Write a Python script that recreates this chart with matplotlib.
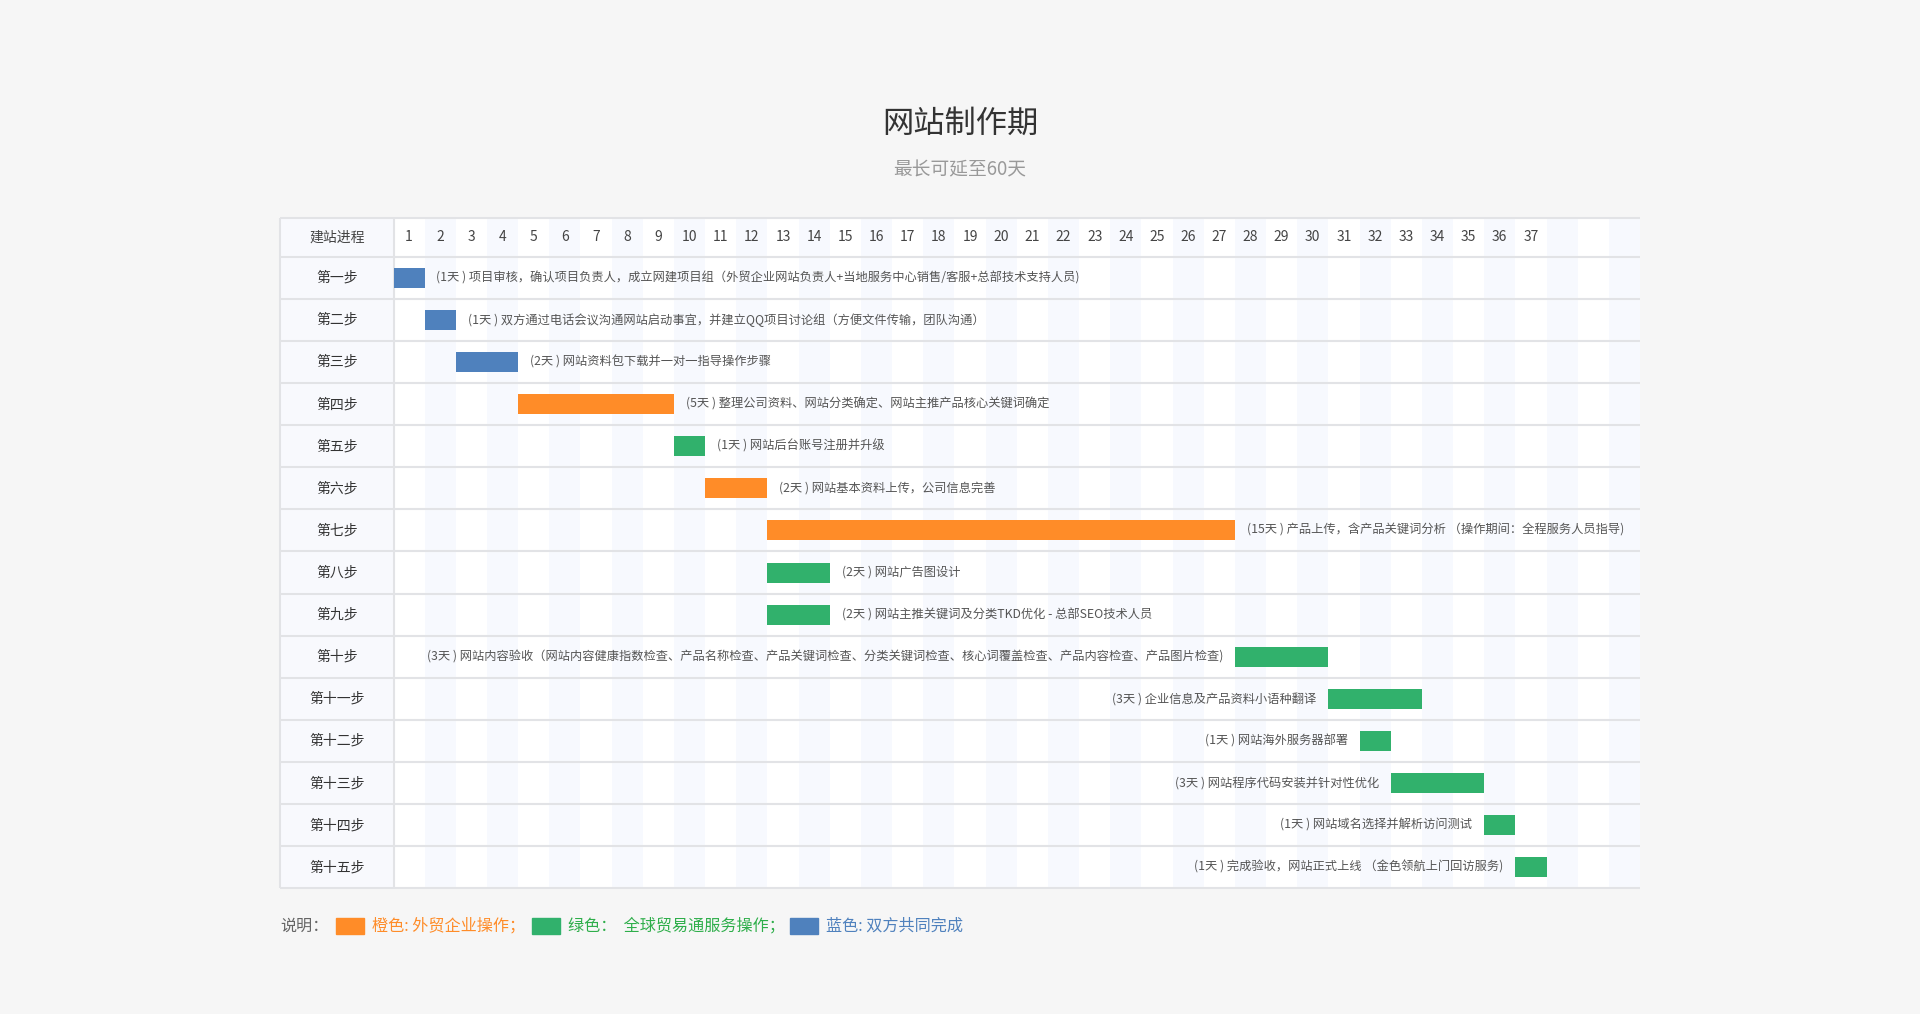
import matplotlib
matplotlib.use('Agg')
import matplotlib.pyplot as plt
from matplotlib.patches import Rectangle

plt.rcParams['font.family'] = ['Noto Sans CJK SC', 'DejaVu Sans']

# ---------------- data ----------------
title = '网站制作期'
subtitle = '最长可延至60天'
header_label = '建站进程'
steps = ['第一步', '第二步', '第三步', '第四步', '第五步', '第六步', '第七步', '第八步',
         '第九步', '第十步', '第十一步', '第十二步', '第十三步', '第十四步', '第十五步']
start_days = [1, 2, 3, 5, 10, 11, 13, 13, 13, 28, 31, 32, 33, 36, 37]
durations = [1, 1, 2, 5, 1, 2, 15, 2, 2, 3, 3, 1, 3, 1, 1]
owners = ['blue', 'blue', 'blue', 'orange', 'green', 'orange', 'orange', 'green',
          'green', 'green', 'green', 'green', 'green', 'green', 'green']
descriptions = [
    '(1天 ) 项目审核，确认项目负责人，成立网建项目组（外贸企业网站负责人+当地服务中心销售/客服+总部技术支持人员)',
    '(1天 ) 双方通过电话会议沟通网站启动事宜，并建立QQ项目讨论组（方便文件传输，团队沟通）',
    '(2天 ) 网站资料包下载并一对一指导操作步骤',
    '(5天 ) 整理公司资料、网站分类确定、网站主推产品核心关键词确定',
    '(1天 ) 网站后台账号注册并升级',
    '(2天 ) 网站基本资料上传，公司信息完善',
    '(15天 ) 产品上传，含产品关键词分析 （操作期间：全程服务人员指导)',
    '(2天 ) 网站广告图设计',
    '(2天 ) 网站主推关键词及分类TKD优化 - 总部SEO技术人员',
    '(3天 ) 网站内容验收（网站内容健康指数检查、产品名称检查、产品关键词检查、分类关键词检查、核心词覆盖检查、产品内容检查、产品图片检查)',
    '(3天 ) 企业信息及产品资料小语种翻译',
    '(1天 ) 网站海外服务器部署',
    '(3天 ) 网站程序代码安装并针对性优化',
    '(1天 ) 网站域名选择并解析访问测试',
    '(1天 ) 完成验收，网站正式上线 （金色领航上门回访服务)',
]
label_side = ['right'] * 9 + ['left'] * 6
day_labels = [str(d) for d in range(1, 38)]
n_columns = 40
legend_title = '说明：'
legend_keys = ['orange', 'green', 'blue']
legend_texts = ['橙色: 外贸企业操作；', '绿色：  全球贸易通服务操作；', '蓝色: 双方共同完成']

# ---------------- style ----------------
colors = {'blue': '#4f81bd', 'orange': '#ff8c28', 'green': '#31b16c'}
text_colors = {'blue': '#4f81bd', 'orange': '#ff8c28', 'green': '#2eae4a'}
BG = '#f6f6f6'
STRIPE = '#f7f9fe'
LABEL_BG = '#f8f9fd'
GRID = '#e2e3e6'

W, H = 1920, 1014
fig = plt.figure(figsize=(W / 100, H / 100), dpi=100, facecolor=BG)

# table geometry in pixels
tab_left, tab_right = 280.3, 1640.0
tab_top, tab_bottom = 217.7, 888.3
col0 = 393.5
header_px = 39.0
n_rows = len(steps)
row_px = (tab_bottom - tab_top - header_px) / n_rows
day_px = (tab_right - col0) / n_columns
label_w = (col0 - tab_left) / day_px
header_h = header_px / row_px

ax = fig.add_axes([tab_left / W, 1 - tab_bottom / H,
                   (tab_right - tab_left) / W, (tab_bottom - tab_top) / H])
ax.set_xlim(-label_w, n_columns)
ax.set_ylim(n_rows, -header_h)
ax.set_facecolor('white')
for s in ax.spines.values():
    s.set_visible(False)
ax.set_xticks([])
ax.set_yticks([])

# backgrounds
ax.axvspan(-label_w, 0, color=LABEL_BG, zorder=0, lw=0)
for k in range(2, n_columns + 1, 2):
    ax.axvspan(k - 1, k, color=STRIPE, zorder=0, lw=0)

# grid lines
ax.hlines(list(range(0, n_rows)), -label_w, n_columns, color=GRID, lw=1.5, zorder=1)
ax.hlines([-header_h, n_rows], -label_w, n_columns, color=GRID, lw=1.5, zorder=1,
          clip_on=False)
ax.vlines([-label_w, 0], -header_h, n_rows, color=GRID, lw=1.5, zorder=1, clip_on=False)

# header
ax.text(-label_w / 2, -header_h / 2, header_label, ha='center', va='center',
        fontsize=10, color='#444444')
for i, d in enumerate(day_labels):
    ax.text(i + 0.5, -header_h / 2, d, ha='center', va='center', fontsize=10,
            color='#444444')

# rows
ys = list(range(n_rows))
for i, name in enumerate(steps):
    ax.text(-label_w / 2, i + 0.5, name, ha='center', va='center', fontsize=10,
            color='#333333')

bar_h = 20.0 / row_px
lefts = [s - 1 for s in start_days]
ax.barh([y + 0.5 for y in ys], durations, left=lefts, height=bar_h,
        color=[colors[o] for o in owners], zorder=3)

for i in ys:
    if label_side[i] == 'right':
        ax.annotate(descriptions[i], (lefts[i] + durations[i], i + 0.5),
                    xytext=(8.5, 0), textcoords='offset points', ha='left',
                    va='center', fontsize=8.8, color='#555555', zorder=4)
    else:
        ax.annotate(descriptions[i], (lefts[i], i + 0.5),
                    xytext=(-8.5, 0), textcoords='offset points', ha='right',
                    va='center', fontsize=8.8, color='#555555', zorder=4)

# titles
fig.text(0.5, 1 - 124 / H, title, ha='center', va='center', fontsize=22.5,
         color='#333333', fontweight='medium')
fig.text(0.5, 1 - 170 / H, subtitle, ha='center', va='center', fontsize=13.5,
         color='#999999')

# legend
renderer = fig.canvas.get_renderer()
ly = 1 - 926 / H
t = fig.text(280 / W, ly, legend_title, ha='left', va='center', fontsize=11.6,
             color='#666666')
x = t.get_window_extent(renderer).x1 + 8
for key, txt in zip(legend_keys, legend_texts):
    fig.patches.append(Rectangle((x / W, 1 - 934 / H), 28 / W, 16 / H,
                                 transform=fig.transFigure, color=colors[key]))
    x += 28 + 8
    tt = fig.text(x / W, ly, txt, ha='left', va='center', fontsize=11.6,
                  color=text_colors[key])
    x = tt.get_window_extent(renderer).x1 + 6

fig.savefig('out.png', dpi=100, facecolor=BG)
